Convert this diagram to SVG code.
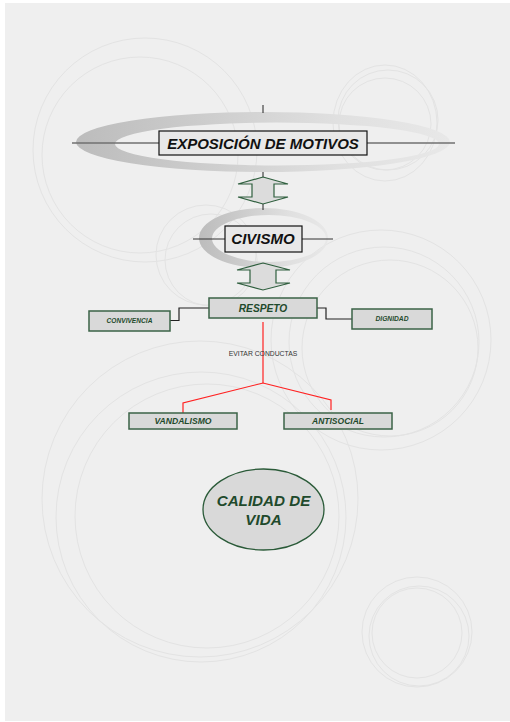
<svg xmlns="http://www.w3.org/2000/svg" width="510" height="722" viewBox="0 0 510 722">
<style>
.bgc{fill:none;stroke:#e3e3e3;stroke-width:1}
.t{font-family:"Liberation Sans",Arial,sans-serif;font-weight:bold;font-style:italic;text-anchor:middle}
.blk{fill:#111111}
.grn{fill:#1f4a2c}
.gbox{fill:#d9d9d9;stroke:#3b6347;stroke-width:1.5}
.wbox{fill:#e8e8e8;stroke:#111111;stroke-width:1.2}
.arrow{fill:#dcdcdc;stroke:#2f5f3e;stroke-width:1.2}
.tick{stroke:#222;stroke-width:1}
.conn{fill:none;stroke:#222;stroke-width:1.2}
.red{fill:none;stroke:#ff2020;stroke-width:1.2}
</style>
<defs>
<linearGradient id="cres" x1="0" y1="0" x2="1" y2="0">
<stop offset="0" stop-color="#bcbcbc"/>
<stop offset="0.35" stop-color="#cdcdcd"/>
<stop offset="0.7" stop-color="#e0e0e0"/>
<stop offset="1" stop-color="#e8e8e8"/>
</linearGradient>
</defs>
<rect x="0" y="0" width="510" height="722" fill="#ffffff"/>
<rect x="5" y="3" width="505" height="718" fill="#efefef"/>
<g id="background">
<circle class="bgc" cx="145" cy="150" r="112"/>
<circle class="bgc" cx="140" cy="155" r="98"/>
<ellipse class="bgc" cx="385" cy="123" rx="52" ry="58"/>
<circle class="bgc" cx="385" cy="124" r="46"/>
<circle class="bgc" cx="388" cy="120" r="50"/>
<circle class="bgc" cx="206" cy="255" r="50"/>
<circle class="bgc" cx="211" cy="260" r="46"/>
<circle class="bgc" cx="381" cy="340" r="110"/>
<circle class="bgc" cx="384" cy="342" r="95"/>
<circle class="bgc" cx="390" cy="348" r="88"/>
<circle class="bgc" cx="200" cy="499" r="158"/>
<circle class="bgc" cx="201" cy="517" r="145"/>
<circle class="bgc" cx="207" cy="516" r="132"/>
<circle class="bgc" cx="417" cy="632" r="55"/>
<circle class="bgc" cx="419" cy="636" r="50"/>
<circle class="bgc" cx="417" cy="633" r="45"/>
</g>
<g id="decor">
<path d="M76,142 A187,30 0 1,0 450,142 A187,30 0 1,0 76,142 Z M115,144 A162,21.5 0 1,1 439,144 A162,21.5 0 1,1 115,144 Z" fill="url(#cres)" fill-rule="evenodd"/>
<path d="M199,238 A64.5,30 0 1,0 328,238 A64.5,30 0 1,0 199,238 Z M212,238.5 A57,23.5 0 1,1 326,238.5 A57,23.5 0 1,1 212,238.5 Z" fill="url(#cres)" fill-rule="evenodd"/>
</g>
<g id="connectors">
<line x1="72" y1="143" x2="455" y2="143" stroke="#707070" stroke-width="1.6"/>
<line class="tick" x1="263" y1="105" x2="263" y2="113"/>
<line class="tick" x1="263" y1="172" x2="263" y2="177"/>
<line class="tick" x1="263" y1="204" x2="263" y2="210"/>
<line x1="193" y1="239" x2="333" y2="239" stroke="#333" stroke-width="1"/>
<polyline class="conn" points="170,320.5 179,320.5 179,308 209,308"/>
<polyline class="conn" points="317,308 326,308 326,319 352,319"/>
<polyline class="red" points="263,322 263,383"/>
<polyline class="red" points="183,413 183,403 263,383 331,400 331,410"/>
</g>
<g id="arrow1">
<polygon class="arrow" points="263,177 288,184 274,184 274,197 288,197 263,204 238,197 252,197 252,184 238,184"/>
</g>
<g id="arrow2">
<polygon class="arrow" points="263,263 290,270 276,270 276,283 290,283 263,290 237,283 250,283 250,270 237,270"/>
</g>
<g id="exposicion">
<rect class="wbox" x="159" y="131" width="208" height="24"/>
<text class="t blk" x="263" y="148.5" font-size="15">EXPOSICIÓN DE MOTIVOS</text>
</g>
<g id="civismo">
<rect class="wbox" x="225" y="226" width="77" height="26"/>
<text class="t blk" x="263" y="244" font-size="15">CIVISMO</text>
</g>
<g id="respeto">
<rect class="gbox" x="209" y="298" width="108" height="20"/>
<text class="t grn" x="263" y="311.5" font-size="10.2">RESPETO</text>
</g>
<g id="convivencia">
<rect class="gbox" x="89" y="311" width="81" height="20"/>
<text class="t grn" x="129.5" y="323" font-size="6.6">CONVIVENCIA</text>
</g>
<g id="dignidad">
<rect class="gbox" x="352" y="309" width="80" height="20"/>
<text class="t grn" x="392" y="321" font-size="6.7">DIGNIDAD</text>
</g>
<g id="label">
<text x="263" y="355.5" font-family="'Liberation Sans',Arial,sans-serif" font-size="6.8" fill="#333" text-anchor="middle">EVITAR CONDUCTAS</text>
</g>
<g id="vandalismo">
<rect class="gbox" x="129" y="413" width="108" height="16"/>
<text class="t grn" x="183" y="424" font-size="8.6">VANDALISMO</text>
</g>
<g id="antisocial">
<rect class="gbox" x="284" y="413" width="108" height="16"/>
<text class="t grn" x="338" y="424" font-size="8.5">ANTISOCIAL</text>
</g>
<g id="calidad">
<ellipse cx="263.5" cy="509.5" rx="60.5" ry="40.5" fill="#d9d9d9" stroke="#2a5a38" stroke-width="1.3"/>
<text class="t grn" x="263.5" y="505.5" font-size="15.2">CALIDAD DE</text>
<text class="t grn" x="263.5" y="524.5" font-size="15.2">VIDA</text>
</g>
</svg>
